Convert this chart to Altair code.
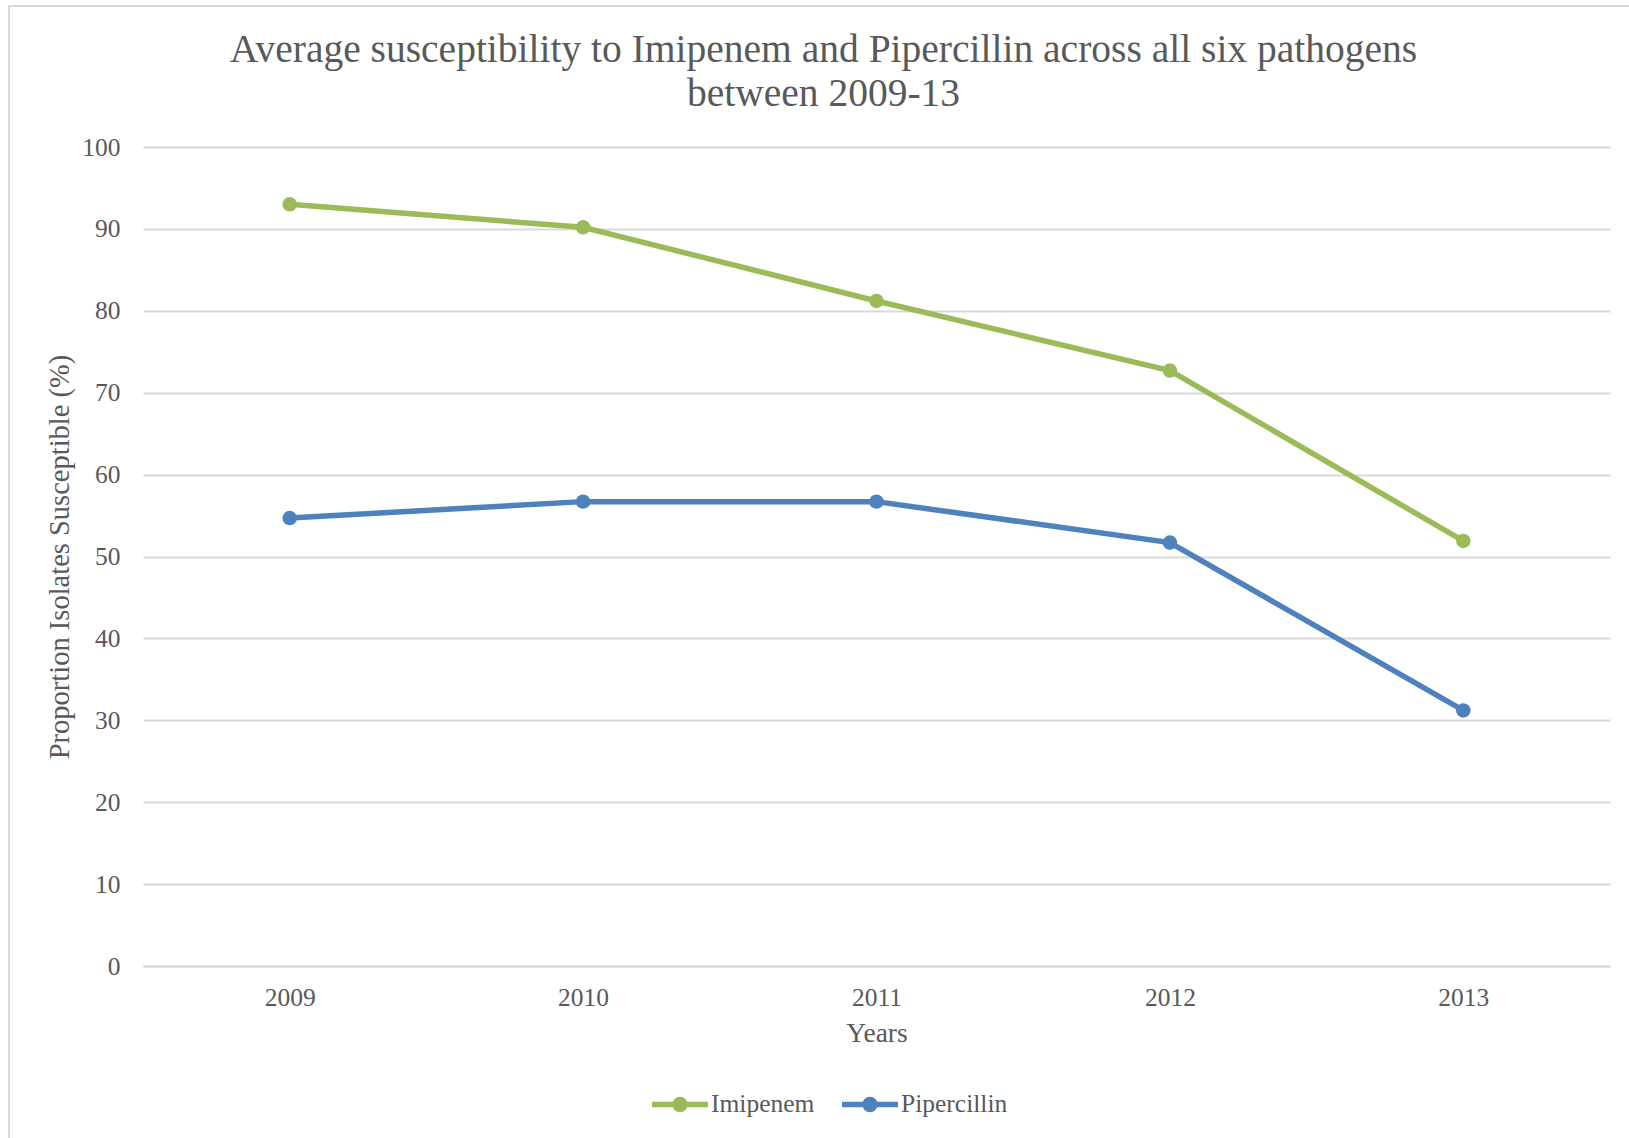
import altair as alt
import pandas as pd

# Average susceptibility (%) across six pathogens, 2009-2013
years = ["2009", "2010", "2011", "2012", "2013"]
imipenem = [93.0, 90.2, 81.2, 72.7, 51.9]
pipercillin = [54.7, 56.7, 56.7, 51.7, 31.2]
series_names = ["Imipenem", "Pipercillin"]
series_colors = ["#9bbb59", "#4f81bd"]
y_ticks = list(range(0, 101, 10))

df = pd.DataFrame(
    [{"Year": y, "Drug": "Imipenem", "Value": v} for y, v in zip(years, imipenem)]
    + [{"Year": y, "Drug": "Pipercillin", "Value": v} for y, v in zip(years, pipercillin)]
)

FONT = "Liberation Serif"
TEXT = "#595959"
GRID = "#d9d9d9"

# legend glyph: a horizontal stroke with a solid dot in the middle
legend_symbol = (
    "M-1,0H1"
    "M0.179,0A0.179,0.179,0,1,1,-0.179,0A0.179,0.179,0,1,1,0.179,0"
    "M0.09,0A0.09,0.09,0,1,1,-0.09,0A0.09,0.09,0,1,1,0.09,0"
)

W, H = 1467, 819

lines = alt.Chart(df).mark_line(
    strokeWidth=5.5,
    point=alt.OverlayMarkDef(filled=True, size=210, opacity=1),
).encode(
    x=alt.X(
        "Year:N",
        sort=years,
        scale=alt.Scale(type="point", padding=0.5),
        axis=alt.Axis(
            title="Years",
            labelAngle=0,
            labelFontSize=25.5,
            labelPadding=19,
            titleFontSize=27.5,
            titlePadding=9,
            titleFontWeight="normal",
            ticks=False,
            domain=True,
            domainColor=GRID,
            domainWidth=2,
            grid=False,
        ),
    ),
    y=alt.Y(
        "Value:Q",
        scale=alt.Scale(domain=[0, 100], nice=False),
        axis=alt.Axis(
            title="Proportion Isolates Susceptible (%)",
            values=y_ticks,
            labelFontSize=25.5,
            labelPadding=23,
            ticks=False,
            domain=False,
            grid=True,
            gridColor=GRID,
            gridWidth=2,
            titleFontSize=28.5,
            titleFontWeight="normal",
            titleAngle=270,
            titleX=-84,
            titleY=H / 2,
            titleAlign="center",
            titleBaseline="middle",
        ),
    ),
    color=alt.Color(
        "Drug:N",
        scale=alt.Scale(domain=series_names, range=series_colors),
        legend=alt.Legend(
            title=None,
            orient="none",
            direction="horizontal",
            legendX=506,
            legendY=926,
            symbolType=legend_symbol,
            symbolSize=3136,
            symbolStrokeWidth=5.5,
            labelFontSize=25.5,
            labelOffset=0,
            columnPadding=16,
        ),
    ),
)

# light outer frame (its right and bottom edges run past the canvas)
frame = alt.Chart(pd.DataFrame({"k": [0]})).mark_rect(
    fill=None, stroke=GRID, strokeWidth=2
).encode(
    x=alt.value(-134), x2=alt.value(1500),
    y=alt.value(-141), y2=alt.value(1005),
)

chart = alt.layer(frame, lines).properties(
    width=W,
    height=H,
    title=alt.TitleParams(
        text=["Average susceptibility to Imipenem and Pipercillin across all six pathogens",
              "between 2009-13"],
        fontSize=39.5,
        font=FONT,
        fontWeight="normal",
        color=TEXT,
        anchor="middle",
        baseline="bottom",
        dx=-53,
        offset=-148,
        lineHeight=44,
    ),
    autosize=alt.AutoSizeParams(type="none"),
    padding={"left": 143, "top": 147, "right": 19, "bottom": 172},
    background="white",
).configure_view(
    stroke=None
).configure_axis(
    labelFont=FONT, titleFont=FONT, labelColor=TEXT, titleColor=TEXT
).configure_legend(
    labelFont=FONT, labelColor=TEXT
)

chart.save("out.html", embed_options={"renderer": "svg", "actions": False})
